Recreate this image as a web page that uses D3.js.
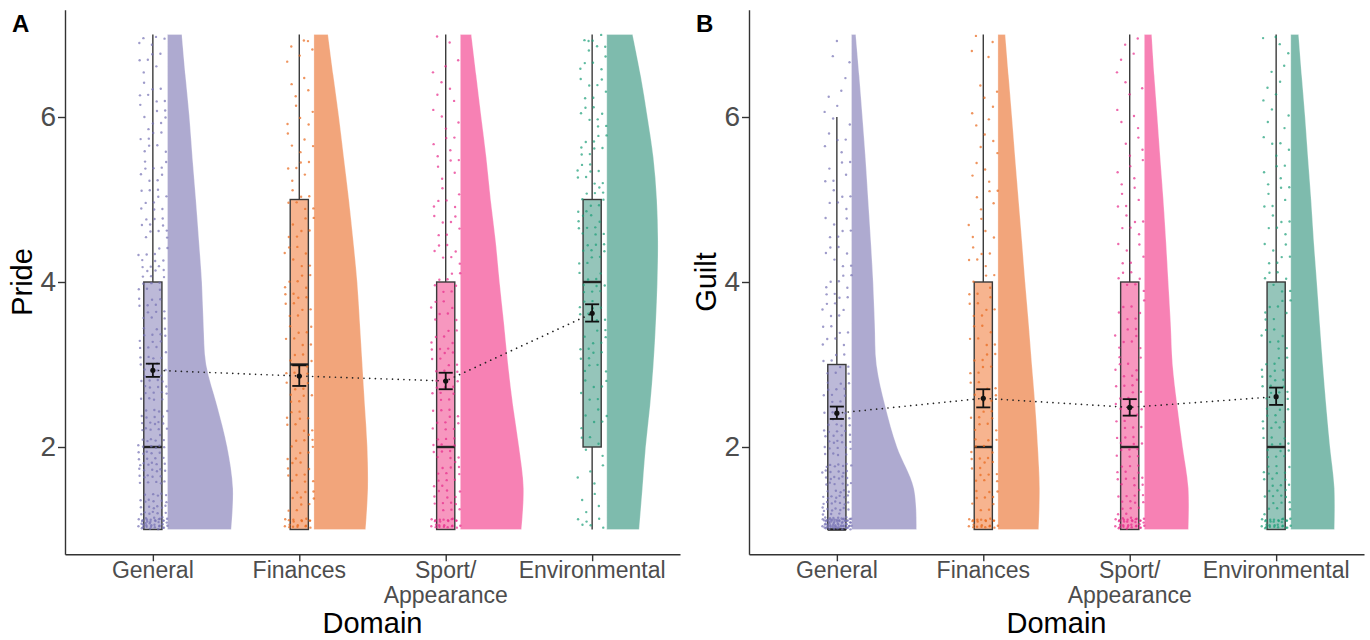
<!DOCTYPE html>
<html>
<head>
<meta charset="utf-8">
<script src="https://d3js.org/d3.v7.min.js"></script>
<style>
  body { margin: 0; background: #fff; }
  svg text { font-family: 'Liberation Sans', Arial, sans-serif; }
</style>
</head>
<body>
<script>
// Data
var domainLabels = [['General'], ['Finances'], ['Sport/', 'Appearance'], ['Environmental']];

// response levels used for the raw points
var levels = [1, 1.33, 1.67, 2, 2.33, 2.67, 3, 3.33, 3.67, 4, 4.33, 4.67, 5, 5.33, 5.67, 6, 6.33, 6.67, 7];

// number of participants at each level (General, Finances, Sport, Environmental)
var prideCounts = [
  [40, 23, 22, 21, 18, 16, 14, 13, 12, 12, 11, 11, 10, 9, 8, 8, 7, 6, 5],
  [18, 10, 10, 10, 9, 9, 9, 8, 8, 8, 7, 7, 7, 6, 5, 5, 4, 3, 3],
  [24, 13, 12, 12, 11, 10, 9, 9, 8, 8, 7, 7, 6, 5, 5, 4, 4, 3, 2],
  [6, 4, 4, 5, 6, 7, 8, 8, 9, 10, 10, 10, 10, 9, 9, 8, 7, 6, 6]
];
var guiltCounts = [
  [70, 30, 25, 18, 14, 11, 9, 8, 8, 8, 7, 7, 6, 6, 5, 4, 3, 2, 1],
  [22, 10, 10, 10, 9, 8, 8, 7, 7, 6, 6, 5, 5, 4, 4, 4, 3, 2, 2],
  [35, 14, 13, 12, 10, 9, 8, 8, 7, 7, 6, 6, 5, 5, 4, 4, 3, 3, 2],
  [30, 14, 13, 12, 11, 10, 9, 8, 8, 7, 7, 6, 6, 5, 5, 4, 4, 3, 3]
];

// half-violin density (width in category units) at these values
var densityLevels = [1, 1.5, 2, 2.5, 3, 3.5, 4, 4.5, 5, 5.5, 6, 6.5, 7];
var prideDensity = [
  [0.435, 0.447, 0.408, 0.339, 0.264, 0.246, 0.235, 0.215, 0.194, 0.171, 0.150, 0.123, 0.098],
  [0.353, 0.369, 0.365, 0.348, 0.331, 0.314, 0.296, 0.269, 0.239, 0.205, 0.171, 0.133, 0.096],
  [0.417, 0.432, 0.401, 0.360, 0.326, 0.298, 0.268, 0.241, 0.207, 0.178, 0.143, 0.109, 0.075],
  [0.221, 0.244, 0.266, 0.296, 0.319, 0.335, 0.346, 0.350, 0.342, 0.319, 0.278, 0.232, 0.176]
];
var guiltDensity = [
  [0.444, 0.426, 0.311, 0.230, 0.171, 0.159, 0.148, 0.132, 0.114, 0.096, 0.075, 0.053, 0.029],
  [0.278, 0.285, 0.273, 0.255, 0.232, 0.210, 0.186, 0.164, 0.141, 0.118, 0.096, 0.073, 0.050],
  [0.301, 0.301, 0.262, 0.225, 0.193, 0.180, 0.164, 0.148, 0.130, 0.109, 0.089, 0.068, 0.050],
  [0.298, 0.298, 0.268, 0.242, 0.219, 0.198, 0.178, 0.157, 0.139, 0.118, 0.098, 0.075, 0.053]
];

// boxplot: lower whisker, Q1, median, Q3, upper whisker
var prideBox = [[1, 1, 2, 4, 7], [1, 1, 3, 5, 7], [1, 1, 2, 4, 7], [1, 2, 4, 5, 7]];
var guiltBox = [[1, 1, 1, 3, 6], [1, 1, 2, 4, 7], [1, 1, 2, 4, 7], [1, 1, 2, 4, 7]];

// means with error bar ends
var prideMean = [2.93, 2.86, 2.80, 3.62];
var prideLow  = [2.85, 2.74, 2.70, 3.52];
var prideHigh = [3.01, 2.99, 2.90, 3.73];
var guiltMean = [2.41, 2.59, 2.48, 2.61];
var guiltLow  = [2.34, 2.48, 2.38, 2.51];
var guiltHigh = [2.49, 2.70, 2.58, 2.72];

var yTicks = [2, 4, 6];

// Styles
var violinColors = ['#aeaad0', '#f2a57b', '#f781b4', '#7ebbad'];
var boxColors    = ['#bcb9d8', '#f7b48f', '#f797bf', '#95c5ba'];
var pointColors  = ['#7570b3', '#e8661a', '#e7298a', '#1b9e77'];

var svg = d3.select('body').append('svg')
    .attr('width', 1370)
    .attr('height', 640);

var plotTop = 9.75,
    plotBottom = 554.25,
    plotW = 615;

var y = d3.scaleLinear().domain([0.7, 7.3]).range([plotBottom, plotTop]);

drawPanel({left: 65, tag: 'A', title: 'Pride', counts: prideCounts, density: prideDensity,
  box: prideBox, mean: prideMean, low: prideLow, high: prideHigh});
drawPanel({left: 749, tag: 'B', title: 'Guilt', counts: guiltCounts, density: guiltDensity,
  box: guiltBox, mean: guiltMean, low: guiltLow, high: guiltHigh});

function frac(v) {
  return v - Math.floor(v);
}

function drawPanel(p) {
  const x = d3.scaleLinear().domain([0.4, 4.6]).range([p.left, p.left + plotW]);
  const g = svg.append('g');

  const boxHalf = 0.062,
        violinGap = 0.1,
        capHalf = 0.048;

  // half violins
  const area = d3.area()
      .curve(d3.curveCatmullRom)
      .y(function(d) { return y(d.v); })
      .x0(function(d) { return x(d.c + violinGap); })
      .x1(function(d) { return x(d.c + violinGap + d.w); });

  p.density.forEach(function(row, i) {
    const pts = row.map(function(w, j) {
      return {v: densityLevels[j], w: w, c: i + 1};
    });
    g.append('path')
        .attr('d', area(pts))
        .attr('fill', violinColors[i])
        .attr('stroke', '#ffffff')
        .attr('stroke-opacity', 0.35)
        .attr('stroke-width', 0.8);
  });

  // boxes
  p.box.forEach(function(b, i) {
    const c = i + 1;
    const bx = g.append('g')
        .attr('stroke', '#3a3a3a')
        .attr('stroke-width', 1.4);
    if (b[4] > b[3]) {
      bx.append('line')
          .attr('x1', x(c)).attr('x2', x(c))
          .attr('y1', y(b[3])).attr('y2', y(b[4]));
    }
    if (b[0] < b[1]) {
      bx.append('line')
          .attr('x1', x(c)).attr('x2', x(c))
          .attr('y1', y(b[1])).attr('y2', y(b[0]));
    }
    bx.append('rect')
        .attr('x', x(c - boxHalf))
        .attr('width', x(c + boxHalf) - x(c - boxHalf))
        .attr('y', y(b[3]))
        .attr('height', y(b[1]) - y(b[3]))
        .attr('fill', boxColors[i]);
    bx.append('line')
        .attr('x1', x(c - boxHalf)).attr('x2', x(c + boxHalf))
        .attr('y1', y(b[2])).attr('y2', y(b[2]))
        .attr('stroke', '#222')
        .attr('stroke-width', 2.4);
  });

  // jittered raw points
  p.counts.forEach(function(row, i) {
    const c = i + 1;
    let n = 0;
    const pts = [];
    row.forEach(function(count, j) {
      for (let k = 0; k < count; k++) {
        let v = levels[j] + (frac(n * 0.7548776662 + 0.31) - 0.5) * 0.3;
        if (v < 1) v = 2 - v;
        if (v > 7) v = 14 - v;
        pts.push({v: v, dx: (frac(n * 0.5698402910 + 0.17) - 0.5) * 0.2});
        n++;
      }
    });
    g.append('g').selectAll('circle')
      .data(pts)
      .enter().append('circle')
        .attr('cx', function(d) { return x(c + d.dx); })
        .attr('cy', function(d) { return y(d.v); })
        .attr('r', 1.2)
        .attr('fill', pointColors[i])
        .attr('fill-opacity', 0.7);
  });

  // dotted line through means
  const line = d3.line()
      .x(function(d, i) { return x(i + 1); })
      .y(function(d) { return y(d); });
  g.append('path')
      .attr('d', line(p.mean))
      .attr('fill', 'none')
      .attr('stroke', '#222')
      .attr('stroke-width', 1.7)
      .attr('stroke-linecap', 'round')
      .attr('stroke-dasharray', '0.01,5.7');

  // error bars and means
  p.mean.forEach(function(m, i) {
    const c = i + 1;
    const eb = g.append('g')
        .attr('stroke', '#111')
        .attr('stroke-width', 1.8);
    eb.append('line')
        .attr('x1', x(c)).attr('x2', x(c))
        .attr('y1', y(p.low[i])).attr('y2', y(p.high[i]));
    [p.low[i], p.high[i]].forEach(function(v) {
      eb.append('line')
          .attr('x1', x(c - capHalf)).attr('x2', x(c + capHalf))
          .attr('y1', y(v)).attr('y2', y(v));
    });
    g.append('circle')
        .attr('cx', x(c))
        .attr('cy', y(m))
        .attr('r', 2.6)
        .attr('fill', '#111');
  });

  // axes
  const yAxis = g.append('g')
      .attr('transform', 'translate(' + p.left + ',0)')
      .call(d3.axisLeft(y)
        .tickValues(yTicks)
        .tickFormat(d3.format('d'))
        .tickSize(7)
        .tickSizeOuter(0)
        .tickPadding(2));
  yAxis.selectAll('text')
      .attr('fill', '#4d4d4d')
      .style('font-size', '28px');

  const xAxis = g.append('g')
      .attr('transform', 'translate(0,' + plotBottom + ')')
      .call(d3.axisBottom(x).tickValues([1, 2, 3, 4]).tickSize(7).tickSizeOuter(0).tickFormat(''));

  [yAxis, xAxis].forEach(function(a) {
    a.selectAll('.domain, .tick line')
        .attr('stroke', '#333')
        .attr('stroke-width', 1.4);
  });

  domainLabels.forEach(function(lines, i) {
    const t = g.append('text')
        .attr('x', x(i + 1))
        .attr('y', 578)
        .attr('text-anchor', 'middle')
        .attr('fill', '#4d4d4d')
        .style('font-size', '23px');
    lines.forEach(function(s, k) {
      t.append('tspan')
          .attr('x', x(i + 1))
          .attr('dy', k === 0 ? 0 : 24.5)
          .text(s);
    });
  });

  // titles
  g.append('text')
      .attr('x', (x.range()[0] + x.range()[1]) / 2)
      .attr('y', 633)
      .attr('text-anchor', 'middle')
      .style('font-size', '29px')
      .text('Domain');

  g.append('text')
      .attr('transform', 'translate(' + (p.left - 33) + ',' + (plotTop + plotBottom) / 2 + ') rotate(-90)')
      .attr('text-anchor', 'middle')
      .style('font-size', '29px')
      .text(p.title);

  g.append('text')
      .attr('x', p.left - 53)
      .attr('y', 32)
      .style('font-size', '24px')
      .style('font-weight', 'bold')
      .text(p.tag);
}
</script>
</body>
</html>
